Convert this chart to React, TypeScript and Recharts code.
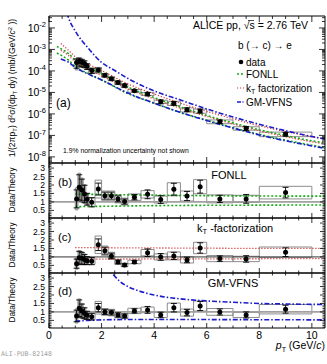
import React from 'react';
import { ComposedChart, Line, Scatter, ErrorBar, XAxis, YAxis, ReferenceArea, ReferenceLine } from 'recharts';

const FONT = '"Liberation Sans", Arial, Helvetica, sans-serif';
const W = 327;
const GREEN = '#1aa81a';
const RED = '#d03a3a';
const BLUE = '#1c1ccc';

// measured pT bins (centre, half width)
const PT = [1.05, 1.15, 1.25, 1.35, 1.45, 1.625, 1.875, 2.125, 2.375, 2.625, 2.875, 3.25, 3.75, 4.25, 4.75, 5.25, 5.75, 6.5, 7.5, 9.0];
const PT_HALF = [0.05, 0.05, 0.05, 0.05, 0.05, 0.125, 0.125, 0.125, 0.125, 0.125, 0.125, 0.25, 0.25, 0.25, 0.25, 0.25, 0.25, 0.5, 0.5, 1.0];
// invariant cross section, mb/(GeV/c^2)
const XSEC = [2.45e-4, 2.82e-4, 2.51e-4, 2.19e-4, 1.66e-4, 1.05e-4, 1.12e-4, 6.3e-5, 4.37e-5, 2.88e-5, 2.09e-5, 1.2e-5, 8.5e-6, 3.7e-6, 3.16e-6, 1.58e-6, 1.38e-6, 4.37e-7, 2.14e-7, 1.15e-7];
// relative stat / syst uncertainties
const STAT = [0.45, 0.4, 0.38, 0.35, 0.3, 0.28, 0.2, 0.15, 0.15, 0.15, 0.15, 0.12, 0.18, 0.2, 0.2, 0.2, 0.2, 0.18, 0.22, 0.2];
const SYST = [0.55, 0.45, 0.42, 0.38, 0.3, 0.25, 0.3, 0.2, 0.2, 0.2, 0.2, 0.15, 0.15, 0.18, 0.22, 0.22, 0.22, 0.2, 0.18, 0.24];
// data / theory
const RATIO_FONLL = [1.18, 1.86, 1.7, 1.47, 1.16, 0.98, 1.76, 1.37, 1.37, 1.18, 1.02, 1.28, 1.45, 1.14, 1.75, 1.35, 1.9, 1.18, 1.18, 1.55];
const RATIO_KT = [0.6, 0.95, 0.92, 0.85, 0.78, 0.75, 1.72, 1.37, 1.06, 0.7, 0.52, 0.7, 1.25, 1.0, 1.06, 0.82, 1.53, 0.9, 0.88, 1.28];
const RATIO_GM = [0.76, 1.22, 1.06, 0.92, 0.8, 0.72, 1.25, 1.0, 0.96, 0.82, 0.76, 1.06, 1.12, 0.82, 1.25, 0.96, 1.35, 1.0, 0.82, 1.16];

// theory bands, panel (a)
const FONLL_PT = [0.3, 0.5, 0.75, 1, 1.5, 2, 3, 4, 5, 6, 7, 8, 9, 10, 10.5];
const FONLL_UP = [1.38e-3, 1.0e-3, 6.3e-4, 3.24e-4, 1.48e-4, 7.41e-5, 1.78e-5, 5.75e-6, 2.09e-6, 8.5e-7, 3.8e-7, 1.82e-7, 9.8e-8, 5.6e-8, 4.4e-8];
const FONLL_LO = [6.8e-4, 5.0e-4, 3.16e-4, 1.62e-4, 7.4e-5, 3.8e-5, 8.9e-6, 3.16e-6, 1.17e-6, 5.1e-7, 2.29e-7, 1.12e-7, 6.0e-8, 3.47e-8, 2.69e-8];
const KT_PT = [0.45, 0.75, 1, 1.5, 2, 3, 4, 5, 6, 7, 8, 9, 10, 10.5];
const KT_UP = [1.9e-3, 8.9e-4, 4.57e-4, 2.09e-4, 1.05e-4, 2.51e-5, 8.5e-6, 3.16e-6, 1.32e-6, 5.9e-7, 2.82e-7, 1.51e-7, 8.7e-8, 6.8e-8];
const KT_LO = [9.1e-4, 5.1e-4, 2.63e-4, 1.2e-4, 6.0e-5, 1.45e-5, 5.0e-6, 1.82e-6, 7.6e-7, 3.39e-7, 1.62e-7, 8.7e-8, 5.0e-8, 3.9e-8];
const GM_UP_PT = [0.68, 0.75, 1, 1.5, 2, 2.5, 3, 4, 5, 6, 7, 8, 9, 10, 10.5];
const GM_UP = [5.0e-2, 2.8e-2, 7.1e-3, 1.12e-3, 2.5e-4, 1.05e-4, 4.5e-5, 1.17e-5, 4.47e-6, 1.7e-6, 7.2e-7, 3.3e-7, 1.66e-7, 8.9e-8, 6.8e-8];
const GM_LO_PT = [0.45, 0.75, 1, 1.5, 2, 3, 4, 5, 6, 7, 8, 9, 10, 10.5];
const GM_LO = [3.6e-4, 2.5e-4, 1.45e-4, 7.1e-5, 3.8e-5, 9.3e-6, 3.16e-6, 1.17e-6, 4.9e-7, 2.19e-7, 1.05e-7, 5.6e-8, 3.24e-8, 2.51e-8];

// theory bands in the ratio panels
const FONLL_R_PT = [1.0, 2, 4, 6, 8, 10.5];
const FONLL_R_UP = [1.46, 1.44, 1.4, 1.37, 1.35, 1.34];
const FONLL_R_LO = [0.72, 0.74, 0.78, 0.8, 0.81, 0.82];
const KT_R_PT = [1.0, 4, 7, 10.5];
const KT_R_UP = [1.55, 1.53, 1.51, 1.5];
const KT_R_LO = [0.87, 0.88, 0.89, 0.9];
const GM_R_UP_PT = [2.2, 2.45, 2.7, 3, 3.5, 4, 4.5, 5, 6, 7, 8, 9, 10.5];
const GM_R_UP = [3.7, 3.2, 2.8, 2.5, 2.2, 2.0, 1.86, 1.77, 1.65, 1.57, 1.5, 1.47, 1.44];
const GM_R_LO_PT = [1.0, 1.5, 2, 3, 5, 8, 10.5];
const GM_R_LO = [0.45, 0.5, 0.53, 0.55, 0.55, 0.54, 0.53];

// axes
const X_DOMAIN: [number, number] = [0, 10.5];
const X_TICKS = Array.from({ length: 21 }, (_, i) => i * 0.5);
const LOG_DOMAIN: [number, number] = [5.2e-9, 3.6e-2];
const LOG_TICKS: number[] = [];
for (let e = -9; e <= -2; e++) {
  for (let m = 1; m <= 9; m++) {
    const v = m * Math.pow(10, e);
    if (v >= LOG_DOMAIN[0] && v <= LOG_DOMAIN[1]) LOG_TICKS.push(v);
  }
}
const R_DOMAIN: [number, number] = [0.05, 3.3];
const R_TICKS = Array.from({ length: 32 }, (_, i) => (i + 1) / 10);

const pts = (xs: number[], ys: number[]) => xs.map((x, i) => ({ x, y: ys[i] }));

const isDecade = (v: number) => {
  const l = Math.log10(v);
  return Math.abs(l - Math.round(l)) < 1e-6;
};
const isHalf = (v: number) => Math.abs(v * 2 - Math.round(v * 2)) < 1e-6;
const isEven = (v: number) => Math.abs(v / 2 - Math.round(v / 2)) < 1e-6;

type Side = 'left' | 'right' | 'top' | 'bottom';
function tick(side: Side, major: (v: number) => boolean, big: number, small: number,
  label?: (x: number, y: number, v: number) => React.ReactNode) {
  return (p: any) => {
    const v = p.payload.value;
    const m = major(v);
    const len = m ? big : small;
    const { x, y } = p;
    let ln;
    if (side === 'left') ln = <line x1={x} x2={x + len} y1={y} y2={y} stroke="#000" strokeWidth={0.8} />;
    else if (side === 'right') ln = <line x1={x} x2={x - len} y1={y} y2={y} stroke="#000" strokeWidth={0.8} />;
    else if (side === 'bottom') ln = <line x1={x} x2={x} y1={y} y2={y - len} stroke="#000" strokeWidth={0.8} />;
    else ln = <line x1={x} x2={x} y1={y} y2={y + len} stroke="#000" strokeWidth={0.8} />;
    return <g>{ln}{m && label ? label(x, y, v) : null}</g>;
  };
}

const logLabel = (x: number, y: number, v: number) => (
  <text x={x - 3} y={y + 4} textAnchor="end" fontSize={10.5} fontFamily={FONT} fill="#000">
    10<tspan dy={-4.5} fontSize={7.5}>{Math.round(Math.log10(v))}</tspan>
  </text>
);
const ratioLabel = (x: number, y: number, v: number) => (
  <text x={x - 4} y={y + 3} textAnchor="end" fontSize={8.6} fontFamily={FONT} fill="#000">
    {String(Math.round(v * 10) / 10)}
  </text>
);
const xLabel = (x: number, y: number, v: number) => (
  <text x={x} y={y + 10.5} textAnchor="middle" fontSize={10.5} fontFamily={FONT} fill="#000">{String(v)}</text>
);

function axes(yScale: 'log' | 'linear', yDomain: [number, number], yTicks: number[],
  yMajor: (v: number) => boolean, yBig: number, ySmall: number, yLab: any,
  xBig: number, xSmall: number, bottomH: number, xLab?: any) {
  const line = { stroke: '#000', strokeWidth: 1 };
  return [
    <XAxis key="xb" xAxisId="b" dataKey="x" type="number" domain={X_DOMAIN} allowDataOverflow ticks={X_TICKS}
      interval={0} height={bottomH} axisLine={line} tickLine={false} tickSize={0} tickMargin={0}
      tick={tick('bottom', isEven, xBig, xSmall, xLab)} />,
    <XAxis key="xt" xAxisId="t" orientation="top" dataKey="x" type="number" domain={X_DOMAIN} allowDataOverflow
      ticks={X_TICKS} interval={0} height={1} axisLine={line} tickLine={false} tickSize={0} tickMargin={0}
      tick={tick('top', isEven, xBig, xSmall)} />,
    <YAxis key="yl" yAxisId="l" dataKey="y" type="number" scale={yScale} domain={yDomain} allowDataOverflow
      ticks={yTicks} interval={0} width={49} axisLine={line} tickLine={false} tickSize={0} tickMargin={0}
      tick={tick('left', yMajor, yBig, ySmall, yLab)} />,
    <YAxis key="yr" yAxisId="r" orientation="right" dataKey="y" type="number" scale={yScale} domain={yDomain}
      allowDataOverflow ticks={yTicks} interval={0} width={2} axisLine={line} tickLine={false} tickSize={0}
      tickMargin={0} tick={tick('right', yMajor, yBig, ySmall)} />,
  ];
}

const dot = (p: any) => <circle cx={p.cx} cy={p.cy} r={2.5} fill="#000" />;

function theoryLine(key: string, xs: number[], ys: number[], color: string, dash: string, w = 1.4) {
  return (
    <Line key={key} data={pts(xs, ys)} dataKey="y" xAxisId="b" yAxisId="l" type="monotone" stroke={color}
      strokeWidth={w} strokeDasharray={dash} dot={false} activeDot={false} isAnimationActive={false} />
  );
}

function boxes(vals: number[]) {
  return PT.map((x, i) => (
    <ReferenceArea key={'box' + i} xAxisId="b" yAxisId="l" x1={x - PT_HALF[i]} x2={x + PT_HALF[i]}
      y1={vals[i] * (1 - SYST[i])} y2={vals[i] * (1 + SYST[i])}
      fill={PT_HALF[i] < 0.1 ? '#b0b0b0' : 'none'} fillOpacity={PT_HALF[i] < 0.1 ? 0.5 : 0}
      stroke="#808080" strokeWidth={0.9} ifOverflow="hidden" />
  ));
}

function points(vals: number[]) {
  const data = PT.map((x, i) => ({ x, y: vals[i], ey: [vals[i] * STAT[i], vals[i] * STAT[i]] }));
  return (
    <Scatter key="pts" data={data} dataKey="y" xAxisId="b" yAxisId="l" shape={dot} isAnimationActive={false}>
      <ErrorBar dataKey="ey" direction="y" width={3} stroke="#000" strokeWidth={0.9} isAnimationActive={false} />
    </Scatter>
  );
}

function SpectrumPanel() {
  return (
    <div style={{ position: 'absolute', left: 0, top: 0 }}>
      <ComposedChart width={W} height={164} margin={{ top: 15, right: 0, bottom: 0, left: 0 }}>
        {axes('log', LOG_DOMAIN, LOG_TICKS, isDecade, 6, 3, logLabel, 6, 3, 1)}
        {boxes(XSEC)}
        {theoryLine('fu', FONLL_PT, FONLL_UP, GREEN, '2 2', 1.6)}
        {theoryLine('fl', FONLL_PT, FONLL_LO, GREEN, '2 2', 1.6)}
        {theoryLine('ku', KT_PT, KT_UP, RED, '1.2 1.8', 1.2)}
        {theoryLine('kl', KT_PT, KT_LO, RED, '1.2 1.8', 1.2)}
        {theoryLine('gu', GM_UP_PT, GM_UP, BLUE, '5 2 1.5 2', 1.6)}
        {theoryLine('gl', GM_LO_PT, GM_LO, BLUE, '5 2 1.5 2', 1.6)}
        {points(XSEC)}
      </ComposedChart>
    </div>
  );
}

type Band = { pt: number[]; val: number[] };

function RatioPanel({ top, ratio, up, lo, color, dash, width, unity, unityW, last }: {
  top: number; ratio: number[]; up: Band; lo: Band; color: string; dash: string; width: number;
  unity: string; unityW: number; last?: boolean;
}) {
  const bottomH = last ? 20 : 1;
  return (
    <div style={{ position: 'absolute', left: 0, top: top - 1 }}>
      <ComposedChart width={W} height={56 + bottomH} margin={{ top: 0, right: 0, bottom: 0, left: 0 }}>
        {axes('linear', R_DOMAIN, R_TICKS, isHalf, 5, 2.5, ratioLabel, 5, 2.5, bottomH, last ? xLabel : undefined)}
        <ReferenceLine y={1} xAxisId="b" yAxisId="l" stroke={unity} strokeWidth={unityW} />
        {boxes(ratio)}
        {theoryLine('u', up.pt, up.val, color, dash, width)}
        {theoryLine('l', lo.pt, lo.val, color, dash, width)}
        {points(ratio)}
      </ComposedChart>
    </div>
  );
}

function Annotations() {
  return (
    <svg width={W} height={364} style={{ position: 'absolute', left: 0, top: 0, pointerEvents: 'none' }}
      fontFamily={FONT} fill="#000">
      <text transform="translate(15,88) rotate(-90)" textAnchor="middle" fontSize={8.6}>
        1/(2πp<tspan dy={2} fontSize={6}>T</tspan><tspan dy={-2}>) d</tspan><tspan dy={-3.5} fontSize={6}>2</tspan>
        <tspan dy={3.5}>σ/(dp</tspan><tspan dy={2} fontSize={6}>T</tspan><tspan dy={-2}> dy) (mb/(GeV/</tspan>
        <tspan fontStyle="italic">c</tspan><tspan dy={-3.5} fontSize={6}>2</tspan><tspan dy={3.5}> ))</tspan>
      </text>
      {[190, 245, 300].map((c) => (
        <text key={c} transform={`translate(15,${c}) rotate(-90)`} textAnchor="middle" fontSize={8.2}>Data/Theory</text>
      ))}

      <text x={193} y={29} fontSize={10.5}>ALICE pp, √s = 2.76 TeV</text>
      <line x1={248} x2={254} y1={20.5} y2={20.5} stroke="#000" strokeWidth={0.7} />
      <text x={238} y={49} fontSize={10}>b (→ c) → e</text>

      <circle cx={241} cy={62} r={2.3} fill="#000" />
      <text x={246} y={65.5} fontSize={10}>data</text>
      <line x1={237} x2={244} y1={74} y2={74} stroke={GREEN} strokeWidth={1.6} strokeDasharray="2 2" />
      <text x={246} y={77.5} fontSize={10}>FONLL</text>
      <line x1={237} x2={244} y1={88} y2={88} stroke={RED} strokeWidth={1.2} strokeDasharray="1.2 1.8" />
      <text x={246} y={91.5} fontSize={10}>k<tspan dy={2} fontSize={7}>T</tspan><tspan dy={-2}> factorization</tspan></text>
      <line x1={237} x2={244} y1={102} y2={102} stroke={BLUE} strokeWidth={1.6} strokeDasharray="4 1.5 1 1.5" />
      <text x={246} y={105.5} fontSize={10}>GM-VFNS</text>

      <text x={56} y={107} fontSize={12}>(a)</text>
      <text x={63} y={152.5} fontSize={6.8}>1.9% normalization uncertainty not shown</text>

      <text x={58} y={186} fontSize={11.5}>(b)</text>
      <text x={229} y={178.5} fontSize={11} textAnchor="middle">FONLL</text>
      <text x={58} y={241} fontSize={11.5}>(c)</text>
      <text x={197} y={231.5} fontSize={11}>k<tspan dy={2} fontSize={7.5}>T</tspan><tspan dy={-2}> -factorization</tspan></text>
      <text x={58} y={295} fontSize={11.5}>(d)</text>
      <text x={233} y={287} fontSize={11} textAnchor="middle">GM-VFNS</text>

      <text x={325} y={349} fontSize={10.5} textAnchor="end">
        <tspan fontStyle="italic">p</tspan><tspan dy={2.5} fontSize={7}>T</tspan><tspan dy={-2.5}> (GeV/</tspan>
        <tspan fontStyle="italic">c</tspan>)
      </text>
      <text x={1} y={356} fontSize={6.5} fill="#a0a0a0" fontFamily='"DejaVu Sans Mono", monospace'>ALI-PUB-82148</text>
    </svg>
  );
}

export default function App() {
  return (
    <div style={{ position: 'absolute', left: 0, top: 0, width: W, height: 364, background: '#fff' }}>
      <SpectrumPanel />
      <RatioPanel top={163} ratio={RATIO_FONLL} up={{ pt: FONLL_R_PT, val: FONLL_R_UP }}
        lo={{ pt: FONLL_R_PT, val: FONLL_R_LO }} color={GREEN} dash="2 2" width={1.6} unity="#a0a0a0" unityW={1.8} />
      <RatioPanel top={218} ratio={RATIO_KT} up={{ pt: KT_R_PT, val: KT_R_UP }}
        lo={{ pt: KT_R_PT, val: KT_R_LO }} color={RED} dash="1.2 1.8" width={1.3} unity="#333" unityW={1} />
      <RatioPanel top={273} ratio={RATIO_GM} up={{ pt: GM_R_UP_PT, val: GM_R_UP }}
        lo={{ pt: GM_R_LO_PT, val: GM_R_LO }} color={BLUE} dash="5 2 1.5 2" width={1.6} unity="#a0a0a0" unityW={1.8} last />
      <Annotations />
    </div>
  );
}
